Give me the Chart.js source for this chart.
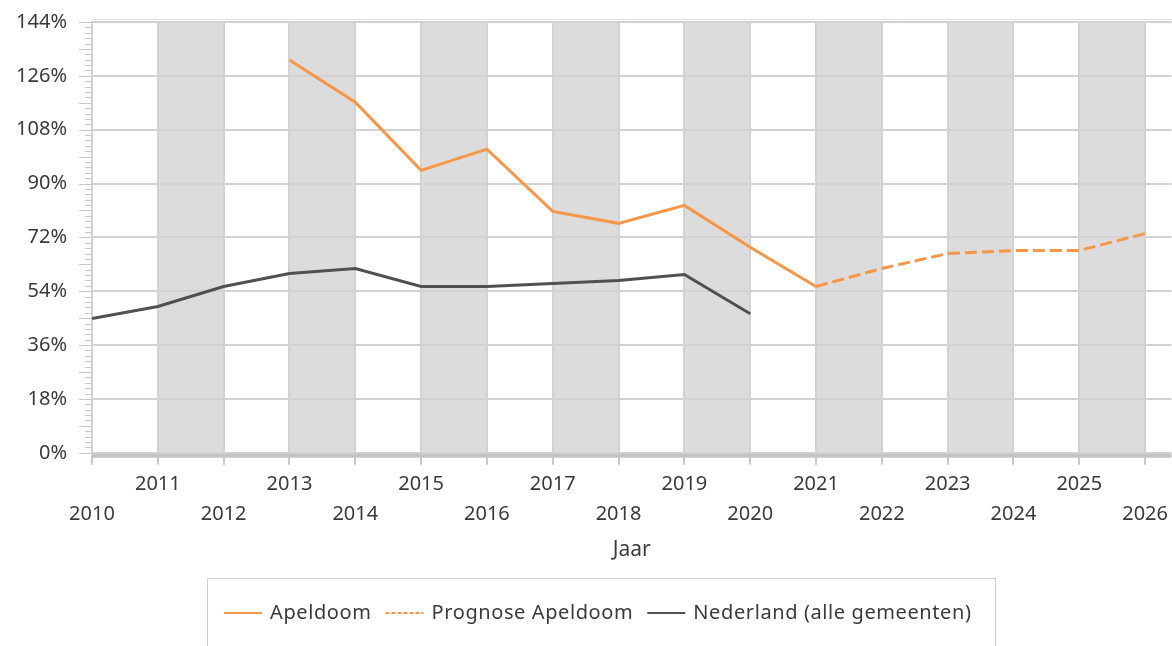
<!DOCTYPE html>
<html>
<head>
<meta charset="utf-8">
<script src="https://cdn.jsdelivr.net/npm/chart.js@4.4.0/dist/chart.umd.min.js"></script>
<style>
  html, body { margin: 0; padding: 0; background: #fff; }
  #wrap { width: 1172px; height: 646px; }
</style>
</head>
<body>
<div id="wrap"><canvas id="chart"></canvas></div>
<script>
// Data
const years = [2010, 2011, 2012, 2013, 2014, 2015, 2016, 2017, 2018, 2019, 2020, 2021, 2022, 2023, 2024, 2025, 2026];
const apeldoom = [null, null, null, 131.3, 117.2, 94.4, 101.5, 80.7, 76.7, 82.7, 68.7, 55.6, null, null, null, null, null];
const prognose = [null, null, null, null, null, null, null, null, null, null, null, 55.6, 61.6, 66.6, 67.6, 67.6, 73.3];
const nederland = [44.9, 48.9, 55.6, 59.9, 61.6, 55.6, 55.6, 56.6, 57.6, 59.6, 46.5, null, null, null, null, null, null];
const seriesNames = ['Apeldoom', 'Prognose Apeldoom', 'Nederland (alle gemeenten)'];

const orange = '#f79646';
const darkGray = '#505050';
const gridColor = '#d2d2d2';
const textColor = '#3a3a3a';
const fontFamily = '"Noto Sans", "Open Sans", sans-serif';

function toPoints(values) {
    return years.map((y, i) => ({ x: y, y: values[i] }));
}

// Shaded bands between odd and even years, plus axis decorations
const bandsPlugin = {
    id: 'bands',
    beforeDraw(chart) {
        const { ctx, chartArea, scales: { x } } = chart;
        ctx.save();
        ctx.fillStyle = '#dcdcdc';
        years.forEach(y => {
            if (y % 2 === 1 && years.includes(y + 1)) {
                const x0 = x.getPixelForValue(y);
                const x1 = x.getPixelForValue(y + 1);
                ctx.fillRect(x0, chartArea.top, x1 - x0, chartArea.bottom - chartArea.top);
            }
        });
        ctx.restore();
    },
    afterDraw(chart) {
        const { ctx, chartArea, scales: { y } } = chart;
        ctx.save();
        // thin line above the top gridline
        ctx.strokeStyle = '#e2e2e2';
        ctx.lineWidth = 1;
        ctx.beginPath();
        ctx.moveTo(chartArea.left, chartArea.top - 2.5);
        ctx.lineTo(chartArea.right, chartArea.top - 2.5);
        ctx.stroke();
        // thick bottom axis line
        ctx.strokeStyle = '#c4c4c4';
        ctx.lineWidth = 4;
        ctx.beginPath();
        ctx.moveTo(chartArea.left, chartArea.bottom + 3);
        ctx.lineTo(chartArea.right, chartArea.bottom + 3);
        ctx.stroke();
        // major and minor ticks on the y axis
        ctx.strokeStyle = '#c8c8c8';
        ctx.lineWidth = 1;
        for (let v = 0; v <= 144.001; v += 1.8) {
            const py = Math.round(y.getPixelForValue(v)) + 0.5;
            const major = Math.abs(v / 9 - Math.round(v / 9)) < 0.01;
            ctx.beginPath();
            ctx.moveTo(chartArea.left - (major ? 13 : 7), py);
            ctx.lineTo(chartArea.left, py);
            ctx.stroke();
        }
        ctx.restore();
    }
};

// Legend with a border box at the bottom
const legendPlugin = {
    id: 'boxLegend',
    afterDraw(chart) {
        const { ctx } = chart;
        const boxLeft = 207, boxTop = 578;
        ctx.save();
        ctx.strokeStyle = '#d0d0d0';
        ctx.lineWidth = 1;
        ctx.strokeRect(boxLeft + 0.5, boxTop + 0.5, 788, 120);

        ctx.font = '20px ' + fontFamily;
        ctx.letterSpacing = '0.6px';
        ctx.textBaseline = 'middle';
        ctx.fillStyle = textColor;
        const cy = 613;
        let cx = boxLeft + 17;
        chart.data.datasets.forEach(ds => {
            ctx.save();
            ctx.strokeStyle = ds.borderColor;
            ctx.lineWidth = 2;
            ctx.setLineDash(ds.borderDash && ds.borderDash.length ? [4, 2] : []);
            ctx.beginPath();
            ctx.moveTo(cx, cy);
            ctx.lineTo(cx + 38, cy);
            ctx.stroke();
            ctx.restore();
            cx += 46;
            ctx.fillText(ds.label, cx, cy);
            cx += ctx.measureText(ds.label).width + 14;
        });
        ctx.restore();
    }
};

const ctx = document.getElementById('chart').getContext('2d');
const chart = new Chart(ctx, {
    type: 'line',
    data: {
        datasets: [
            {
                label: seriesNames[0],
                data: toPoints(apeldoom),
                borderColor: orange,
                borderWidth: 3,
                pointRadius: 0,
                spanGaps: false
            },
            {
                label: seriesNames[1],
                data: toPoints(prognose),
                borderColor: orange,
                borderWidth: 3,
                borderDash: [12, 5],
                pointRadius: 0
            },
            {
                label: seriesNames[2],
                data: toPoints(nederland),
                borderColor: darkGray,
                borderWidth: 3,
                pointRadius: 0
            }
        ]
    },
    options: {
        responsive: true,
        maintainAspectRatio: false,
        animation: false,
        layout: {
            padding: { top: 22, left: 0, right: 0, bottom: 79 }
        },
        scales: {
            x: {
                type: 'linear',
                min: years[0],
                max: years[years.length - 1] + 0.4,
                afterBuildTicks: scale => {
                    scale.ticks = years.map(y => ({ value: y }));
                },
                grid: {
                    color: gridColor,
                    lineWidth: 2,
                    drawTicks: true,
                    tickLength: 12,
                    tickColor: '#c8c8c8',
                    tickWidth: 2
                },
                border: { display: false },
                ticks: {
                    autoSkip: false,
                    maxRotation: 0,
                    padding: 4,
                    color: textColor,
                    font: { family: fontFamily, size: 20, lineHeight: 1.5 },
                    callback: v => (v % 2 === 1 ? [String(v), ''] : ['', String(v)])
                },
                title: {
                    display: true,
                    text: 'Jaar',
                    color: textColor,
                    font: { family: fontFamily, size: 21, lineHeight: 1.2 },
                    padding: { top: 5, bottom: 4 }
                }
            },
            y: {
                min: 0,
                max: 144,
                afterFit: scale => {
                    scale.width = 92;
                    scale.paddingTop = 0; // tick padding should not push the plot down
                },
                grid: {
                    color: gridColor,
                    lineWidth: 2,
                    drawTicks: false
                },
                border: { display: true, color: gridColor, width: 2 },
                ticks: {
                    stepSize: 9,
                    padding: 25,
                    color: textColor,
                    font: { family: fontFamily, size: 20 },
                    callback: v => (v % 18 === 0 ? v + '%' : '')
                }
            }
        },
        plugins: {
            legend: { display: false },
            tooltip: { enabled: false }
        }
    },
    plugins: [bandsPlugin, legendPlugin]
});
</script>
</body>
</html>
